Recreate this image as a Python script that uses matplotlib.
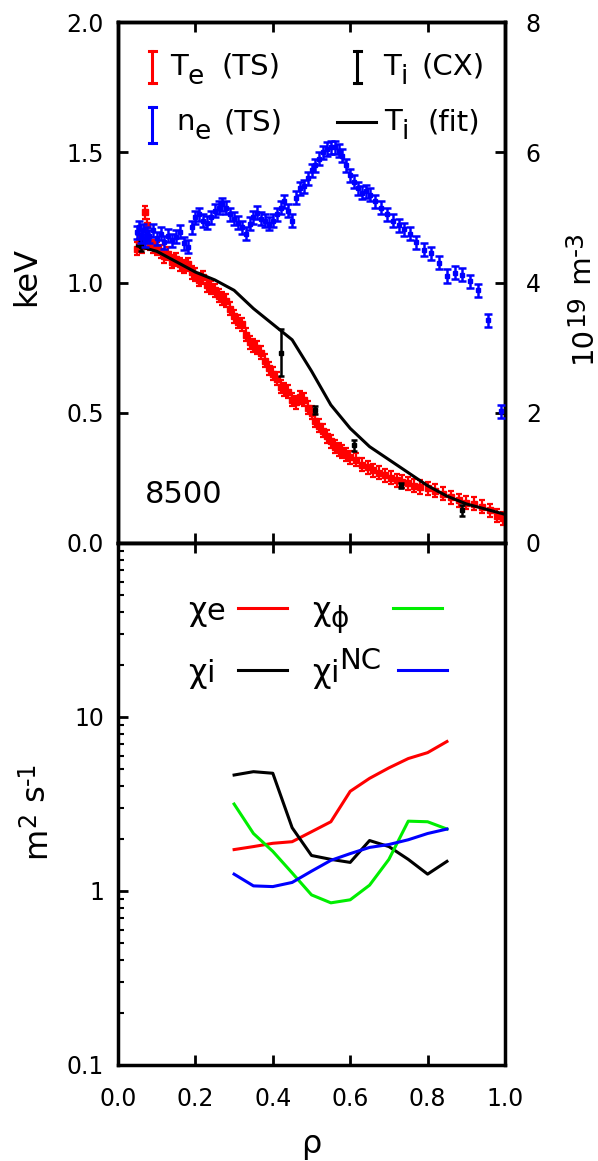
import matplotlib
matplotlib.use("Agg")
import matplotlib.pyplot as plt
from matplotlib.ticker import FixedLocator, NullFormatter, LogLocator
from matplotlib.transforms import IdentityTransform
from matplotlib.lines import Line2D

plt.rcParams['font.family'] = ['DejaVu Sans']

# ---------------- data ----------------
te_rho = [0.050, 0.055, 0.062, 0.070, 0.075, 0.082, 0.090, 0.100, 0.110, 0.120,
          0.130, 0.140, 0.150, 0.160, 0.170, 0.180, 0.190, 0.200, 0.210, 0.220,
          0.230, 0.240, 0.250, 0.260, 0.270, 0.280, 0.290, 0.300, 0.310, 0.320,
          0.330, 0.340, 0.350, 0.360, 0.370, 0.380, 0.390, 0.400, 0.410, 0.420,
          0.430, 0.440, 0.450, 0.460, 0.470, 0.480, 0.490, 0.500, 0.510, 0.520,
          0.530, 0.540, 0.550, 0.560, 0.570, 0.580, 0.590, 0.600, 0.615, 0.630,
          0.645, 0.660, 0.675, 0.690, 0.705, 0.720, 0.735, 0.750, 0.765, 0.780,
          0.800, 0.820, 0.840, 0.860, 0.880, 0.900, 0.920, 0.940, 0.960, 0.980, 0.995]
te_val = [1.13, 1.16, 1.14, 1.27, 1.22, 1.15, 1.14, 1.13, 1.12, 1.10,
          1.11, 1.08, 1.09, 1.07, 1.06, 1.07, 1.04, 1.03, 1.01, 1.02,
          0.99, 0.98, 0.97, 0.95, 0.94, 0.93, 0.90, 0.87, 0.85, 0.84,
          0.80, 0.77, 0.76, 0.75, 0.73, 0.70, 0.67, 0.65, 0.63, 0.60,
          0.59, 0.58, 0.55, 0.54, 0.56, 0.55, 0.52, 0.50, 0.47, 0.45,
          0.43, 0.41, 0.39, 0.37, 0.36, 0.35, 0.34, 0.33, 0.32, 0.30,
          0.29, 0.28, 0.27, 0.26, 0.25, 0.24, 0.235, 0.23, 0.22, 0.215,
          0.21, 0.20, 0.19, 0.175, 0.165, 0.155, 0.15, 0.14, 0.125, 0.105, 0.095]
te_err = 0.025

ne_rho = [0.050, 0.055, 0.060, 0.065, 0.070, 0.075, 0.080, 0.090, 0.100, 0.110,
          0.120, 0.130, 0.140, 0.150, 0.160, 0.170, 0.180, 0.190, 0.200, 0.210,
          0.220, 0.230, 0.240, 0.250, 0.260, 0.270, 0.280, 0.290, 0.300, 0.310,
          0.320, 0.330, 0.340, 0.350, 0.360, 0.370, 0.380, 0.390, 0.400, 0.410,
          0.420, 0.430, 0.440, 0.450, 0.460, 0.470, 0.480, 0.490, 0.500, 0.510,
          0.520, 0.530, 0.540, 0.550, 0.560, 0.570, 0.580, 0.590, 0.600, 0.610,
          0.620, 0.630, 0.640, 0.650, 0.665, 0.680, 0.695, 0.710, 0.725, 0.740,
          0.755, 0.770, 0.790, 0.810, 0.830, 0.850, 0.870, 0.890, 0.910, 0.930,
          0.955, 0.990]
ne_val = [4.77, 4.85, 4.70, 4.80, 4.65, 4.75, 4.71, 4.80, 4.68, 4.75,
          4.62, 4.72, 4.65, 4.70, 4.78, 4.60, 4.55, 4.85, 5.00, 5.05,
          4.95, 4.92, 5.00, 5.10, 5.15, 5.20, 5.15, 5.05, 4.98, 4.92,
          4.85, 4.75, 4.90, 5.00, 5.07, 4.98, 4.95, 4.90, 4.95, 5.05,
          5.15, 5.25, 5.10, 4.95, 5.30, 5.45, 5.48, 5.60, 5.72, 5.80,
          5.90, 6.00, 6.05, 6.08, 6.08, 6.02, 5.95, 5.80, 5.65, 5.55,
          5.45, 5.38, 5.40, 5.35, 5.25, 5.15, 5.05, 4.95, 4.88, 4.82,
          4.75, 4.62, 4.50, 4.45, 4.30, 4.10, 4.15, 4.12, 4.02, 3.88,
          3.42, 2.02]
ne_err = 0.1

ti_cx_rho = [0.06, 0.42, 0.51, 0.61, 0.73, 0.89]
ti_cx_val = [1.14, 0.73, 0.51, 0.375, 0.22, 0.125]
ti_cx_err = [0.02, 0.09, 0.015, 0.02, 0.01, 0.02]

ti_fit_rho = [0.05, 0.10, 0.15, 0.20, 0.25, 0.30, 0.35, 0.40, 0.45, 0.50,
              0.55, 0.60, 0.65, 0.70, 0.75, 0.80, 0.85, 0.90, 0.95, 1.00]
ti_fit_val = [1.14, 1.12, 1.08, 1.04, 1.01, 0.97, 0.90, 0.84, 0.78, 0.66,
              0.53, 0.44, 0.37, 0.32, 0.27, 0.22, 0.18, 0.15, 0.13, 0.11]

chi_rho = [0.30, 0.35, 0.40, 0.45, 0.50, 0.55, 0.60, 0.65, 0.70, 0.75, 0.80, 0.85]
chi_e = [1.73, 1.80, 1.88, 1.92, 2.19, 2.50, 3.74, 4.44, 5.10, 5.77, 6.24, 7.23]
chi_i = [4.64, 4.85, 4.75, 2.31, 1.60, 1.52, 1.46, 1.95, 1.80, 1.52, 1.25, 1.48]
chi_phi = [3.16, 2.14, 1.69, 1.27, 0.95, 0.855, 0.89, 1.08, 1.52, 2.52, 2.50, 2.27]
chi_nc = [1.25, 1.07, 1.06, 1.12, 1.30, 1.50, 1.64, 1.78, 1.85, 1.97, 2.14, 2.27]

xticks = [0.0, 0.2, 0.4, 0.6, 0.8, 1.0]
xticklabels = ['0.0', '0.2', '0.4', '0.6', '0.8', '1.0']
kev_ticks = [0.0, 0.5, 1.0, 1.5, 2.0]
kev_labels = ['0.0', '0.5', '1.0', '1.5', '2.0']
ne_ticks = [0, 2, 4, 6, 8]
chi_ticks = [0.1, 1, 10, 100]
chi_labels = ['0.1', '1', '10', '']

# ---------------- figure ----------------
W, H = 598, 1161
fig = plt.figure(figsize=(W / 100, H / 100), dpi=100)
renderer = fig.canvas.get_renderer()


def fx(px):
    return px / W


def fy(py):
    return 1 - py / H


L, R = 118, 505
T1, B1, B2 = 22, 543, 1065
ax1 = fig.add_axes([fx(L), fy(B1), fx(R) - fx(L), fy(T1) - fy(B1)])
ax2 = fig.add_axes([fx(L), fy(B2), fx(R) - fx(L), fy(B1) - fy(B2)])
ax1r = ax1.twinx()

FS = 17
SW = 2.5


def rich(x, y, pieces, rot=0, align='left', color='black'):
    """pieces: (text, size, raise_px); x, y: baseline start in px (top origin)."""
    objs, lens = [], []
    for s, size, dr in pieces:
        t = fig.text(0, 0, s, fontsize=size, rotation=rot, rotation_mode='anchor',
                     ha='left', va='baseline', transform=IdentityTransform(), color=color)
        bb = t.get_window_extent(renderer)
        lens.append(bb.height if rot == 90 else bb.width)
        objs.append(t)
    pos = 0 if align == 'left' else -sum(lens) / 2
    for t, ln, (s, size, dr) in zip(objs, lens, pieces):
        if rot == 0:
            t.set_position((x + pos, H - y + dr))
        else:
            t.set_position((x - dr, H - y + pos))
        pos += ln


def fline(x0, x1, y0, y1, color, lw=2.2, **kw):
    fig.add_artist(Line2D([fx(x0), fx(x1)], [fy(y0), fy(y1)], transform=fig.transFigure,
                          color=color, lw=lw, **kw))


# --- top panel ---
ax1.errorbar(te_rho, te_val, yerr=te_err, fmt='s', color='red', ms=3.8,
             elinewidth=1.6, capsize=2.5, capthick=1.6, zorder=3)
ax1.errorbar(ti_cx_rho, ti_cx_val, yerr=ti_cx_err, fmt='s', color='black', ms=3,
             elinewidth=1.8, capsize=2.5, capthick=1.8, zorder=4)
ax1.plot(ti_fit_rho, ti_fit_val, color='black', lw=2.2, zorder=4)
ax1r.errorbar(ne_rho, ne_val, yerr=ne_err, fmt='s', color='blue', ms=3.5,
              elinewidth=1.8, capsize=3, capthick=1.8, zorder=3)

ax1.set_xlim(0, 1)
ax1.set_ylim(0, 2)
ax1r.set_ylim(0, 8)
ax1.set_xticks(xticks)
ax1.set_xticklabels([])
ax1.set_yticks(kev_ticks)
ax1.set_yticklabels(kev_labels, fontsize=FS)
ax1r.set_yticks(ne_ticks)
ax1r.set_yticklabels([str(t) for t in ne_ticks], fontsize=FS)
ax1.tick_params(axis='both', direction='in', length=7, width=2, top=True, bottom=True, pad=10)
ax1.tick_params(axis='x', labelbottom=False)
ax1r.tick_params(axis='y', direction='in', length=7, width=2, pad=15)
for a in (ax1, ax1r):
    for s in a.spines.values():
        s.set_linewidth(SW)
rich(145, 503, [('8500', 22, 0)])

# axis labels
rich(35, 276, [('keV', 23, 0)], rot=90, align='center')
rich(591, 297, [('10', 21, 0), ('19', 18, 8), (' m', 21, 0), ('-3', 18, 8)], rot=90, align='center')
rich(45, 810, [('m', 23, 0), ('2', 17, 10), (' s', 23, 0), ('-1', 17, 10)], rot=90, align='center')
rich(311, 1153, [('ρ', 23, 0)], align='center')


# top legend
def vbar(x, yc, half, color):
    fline(x, x, yc - half, yc + half, color, lw=2.2)
    fline(x - 3.5, x + 3.5, yc - half, yc - half, color, lw=2.2)
    fline(x - 3.5, x + 3.5, yc + half, yc + half, color, lw=2.2)


vbar(152, 67, 16, 'red')
rich(170, 75, [('T', 21, 0), ('e', 19, -9)])
rich(222, 75, [('(TS)', 21, 0)])
vbar(357, 67, 16, 'black')
rich(383, 75, [('T', 21, 0), ('i', 19, -9)])
rich(422, 75, [('(CX)', 21, 0)])
vbar(152, 125, 18, 'blue')
rich(176, 130, [('n', 21, 0), ('e', 19, -9)])
rich(224, 130, [('(TS)', 21, 0)])
fline(337, 376, 122, 122, 'black', lw=2.2)
rich(384, 130, [('T', 21, 0), ('i', 19, -9)])
rich(427, 130, [('(fit)', 21, 0)])

# --- bottom panel ---
ax2.plot(chi_rho, chi_e, color='red', lw=2.2)
ax2.plot(chi_rho, chi_i, color='black', lw=2.2)
ax2.plot(chi_rho, chi_phi, color='#00ee00', lw=2.2)
ax2.plot(chi_rho, chi_nc, color='blue', lw=2.2)
ax2.set_yscale('log')
ax2.set_xlim(0, 1)
ax2.set_ylim(0.1, 100)
ax2.set_xticks(xticks)
ax2.set_xticklabels(xticklabels, fontsize=FS)
ax2.yaxis.set_major_locator(FixedLocator(chi_ticks))
ax2.set_yticklabels(chi_labels, fontsize=FS)
ax2.yaxis.set_minor_locator(LogLocator(base=10, subs=range(2, 10)))
ax2.yaxis.set_minor_formatter(NullFormatter())
ax2.tick_params(axis='both', which='major', direction='in', length=7, width=2,
                top=True, right=False)
ax2.tick_params(axis='x', which='major', pad=16)
ax2.tick_params(axis='y', which='major', pad=10)
ax2.tick_params(axis='y', which='minor', direction='in', length=4, width=1.5, right=False)
for s in ax2.spines.values():
    s.set_linewidth(SW)

# bottom legend
rich(188, 620, [('χ', 23, 0), ('e', 22, 0)])
fline(238, 287, 608, 608, 'red')
rich(312, 620, [('χ', 23, 0), ('ϕ', 20, -7)])
fline(393, 442, 608, 608, '#00ee00')
rich(188, 682, [('χ', 23, 0), ('i', 22, 0)])
fline(238, 287, 670, 670, 'black')
rich(312, 682, [('χ', 23, 0), ('i', 22, 0), ('NC', 21, 13)])
fline(398, 447, 670, 670, 'blue')

fig.savefig('out.png', dpi=100)
